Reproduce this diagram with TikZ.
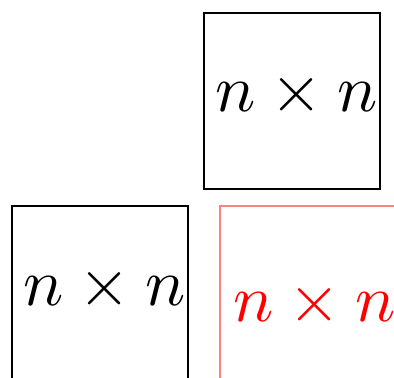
\documentclass[tikz,border=0pt]{standalone}
\usepackage{graphicx}
\begin{document}
\begin{tikzpicture}[x=0.5pt,y=-0.5pt,
  box/.style={draw=black,line width=1pt,minimum width=88pt,minimum height=88pt,inner sep=0pt,anchor=north west},
  redbox/.style={box,draw=red!50},
  lbl/.style={inner sep=0pt,anchor=base west}]
\useasboundingbox (0,0) rectangle (394,377);
\clip (0,0) rectangle (394,377);
\node[box] (top) at (203,12) {};
\node[box] (bl) at (11,205) {};
\node[redbox] (br) at (218.5,205) {};
\node[lbl] (ttop) at (215,111) {\scalebox{3.35}{$n\times n$}};
\node[lbl] (tbl) at (23,305) {\scalebox{3.35}{$n\times n$}};
\node[lbl,text=red] (tbr) at (233,321) {\scalebox{3.35}{$n\times n$}};
\end{tikzpicture}
\end{document}
